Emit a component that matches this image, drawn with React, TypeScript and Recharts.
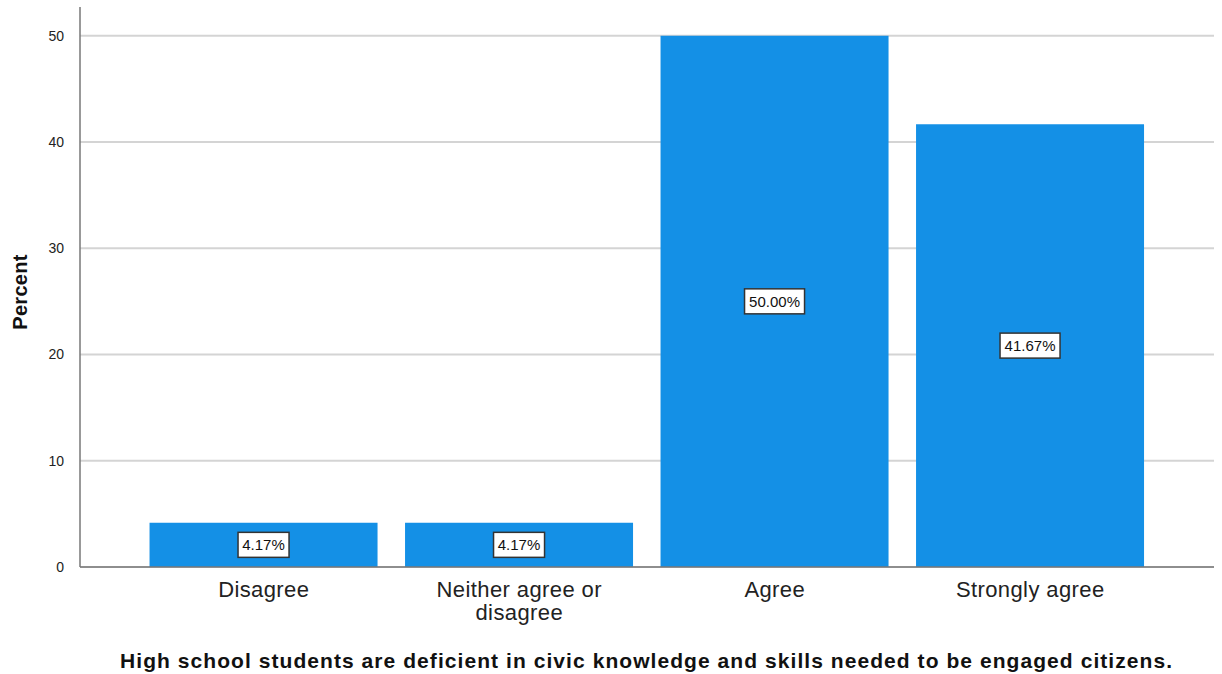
import { BarChart, Bar, XAxis, YAxis, CartesianGrid, LabelList } from 'recharts'

const categories = ['Disagree', 'Neither agree or disagree', 'Agree', 'Strongly agree']
const percents = [4.17, 4.17, 50.0, 41.67]
const yTicks = [0, 10, 20, 30, 40, 50]
const Y_MAX = 52.7

const data = categories.map((c, i) => ({ cat: c, pct: percents[i] }))

const FONT = '"Liberation Sans", Arial, sans-serif'

function CatTick({ x, y, payload }: any) {
  const words = String(payload.value).split(' ')
  const lines: string[] = []
  let cur = ''
  for (const w of words) {
    const next = cur ? cur + ' ' + w : w
    if (next.length > 20 && cur) { lines.push(cur); cur = w } else cur = next
  }
  if (cur) lines.push(cur)
  return (
    <text x={x} y={y + 22} textAnchor="middle" fontFamily={FONT} fontSize={22} letterSpacing={0.4} fill="#222">
      {lines.map((l, i) => <tspan key={i} x={x} dy={i === 0 ? 0 : 23}>{l}</tspan>)}
    </text>
  )
}

function PctLabel({ x, y, width, height, value }: any) {
  const cx = x + width / 2
  const cy = y + height / 2
  const txt = `${Number(value).toFixed(2)}%`
  const w = txt.length * 9 + 6
  return (
    <g>
      <rect x={cx - w / 2} y={cy - 12.5} width={w} height={25} fill="#fff" stroke="#333" strokeWidth={1.5} />
      <text x={cx} y={cy + 5.5} textAnchor="middle" fontFamily={FONT} fontSize={15} fill="#111">{txt}</text>
    </g>
  )
}

// grid only at the labelled ticks (no line at the top of the plot)
const gridRows = ({ offset }: any) =>
  yTicks.map(t => offset.top + offset.height * (1 - t / Y_MAX))

export default function App() {
  return (
    <div style={{ position: 'absolute', left: 0, top: 0, width: 1222, height: 674, background: '#fff' }}>
      <BarChart width={1222} height={674} data={data} margin={{ top: 7, right: 8, bottom: 0, left: 0 }} barCategoryGap="5.3%">
        <CartesianGrid vertical={false} stroke="#d4d4d4" strokeWidth={2} horizontalCoordinatesGenerator={gridRows} />
        <XAxis dataKey="cat" height={107} tickLine={false} axisLine={{ stroke: '#777', strokeWidth: 1.5 }} padding={{ left: 56, right: 56 }} interval={0} tick={<CatTick />} />
        <YAxis width={80} domain={[0, Y_MAX]} ticks={yTicks} tickLine={false} axisLine={{ stroke: '#777', strokeWidth: 1.5 }} tick={{ fontFamily: FONT, fontSize: 14, fill: '#222' }} tickMargin={10} />
        <Bar dataKey="pct" fill="#1490e6" isAnimationActive={false}>
          <LabelList dataKey="pct" content={<PctLabel />} />
        </Bar>
        <text x={27} y={292} transform="rotate(-90 27 292)" textAnchor="middle" fontFamily={FONT} fontSize={20} fontWeight="bold" letterSpacing={0.3} fill="#111">Percent</text>
        <text x={646} y={668} textAnchor="middle" fontFamily={FONT} fontSize={21} fontWeight="bold" fill="#111" textLength={1052} lengthAdjust="spacing">High school students are deficient in civic knowledge and skills needed to be engaged citizens.</text>
      </BarChart>
    </div>
  )
}
